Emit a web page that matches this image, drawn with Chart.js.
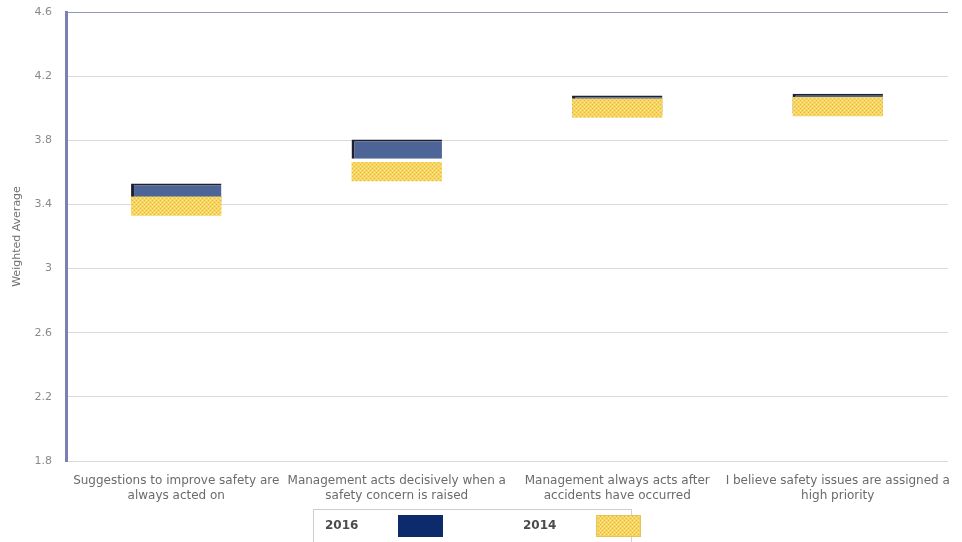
<!DOCTYPE html>
<html>
<head>
<meta charset="utf-8">
<script src="https://cdn.jsdelivr.net/npm/chart.js@4/dist/chart.umd.min.js"></script>
<style>
  html, body { margin: 0; padding: 0; background: #fff; }
  #wrap { width: 962px; height: 542px; }
</style>
</head>
<body>
<div id="wrap"><canvas id="rangeChart" width="962" height="542"></canvas></div>
<script>
// survey statements and weighted averages per year
const categories = [
    ['Suggestions to improve safety are', 'always acted on'],
    ['Management acts decisively when a', 'safety concern is raised'],
    ['Management always acts after', 'accidents have occurred'],
    ['I believe safety issues are assigned a', 'high priority']
];
const years = ['2016', '2014'];
const avg2016 = [3.47, 3.745, 4.02, 4.03];
const avg2014 = [3.39, 3.605, 4.00, 4.01];
const yTicks = [1.8, 2.2, 2.6, 3, 3.4, 3.8, 4.2, 4.6];

// half the height of each marker box, in axis units
const HALF = 0.06;
const toBand = arr => arr.map(v => [v - HALF, v + HALF]);

// dotted yellow fill
function dotPattern(){
    const c = document.createElement('canvas');
    c.width = 4; c.height = 4;
    const g = c.getContext('2d');
    g.fillStyle = '#f6d660';
    g.fillRect(0, 0, 4, 4);
    g.fillStyle = '#e6b73e';
    g.fillRect(0, 0, 1, 1);
    g.fillRect(2, 2, 1, 1);
    g.fillStyle = '#fbe69a';
    g.fillRect(2, 0, 1, 1);
    g.fillRect(0, 2, 1, 1);
    return g.createPattern(c, 'repeat');
}
const yellowDots = dotPattern();

// boxed legend under the axis
const boxLegend = {
    id: 'boxLegend',
    afterDraw(chart){
        const ctx = chart.ctx;
        ctx.save();
        ctx.strokeStyle = '#cfcfcf';
        ctx.lineWidth = 1;
        ctx.strokeRect(313.5, 509.5, 318, 40);
        ctx.font = 'bold 12px "DejaVu Sans"';
        ctx.textBaseline = 'middle';
        chart.data.datasets.forEach((ds, i) => {
            const x = 325 + i * 198;
            ctx.fillStyle = '#4b4b4b';
            ctx.fillText(ds.label, x, 526);
            ctx.fillStyle = ds.legendFill;
            ctx.fillRect(x + 73, 515, 45, 22);
            if (ds.legendEdge){
                ctx.strokeStyle = ds.legendEdge;
                ctx.strokeRect(x + 73.5, 515.5, 44, 21);
            }
        });
        ctx.restore();
    }
};

const ctx = document.getElementById('rangeChart').getContext('2d');
const rangeChart = new Chart(ctx, {
    type: 'bar',
    data: {
        labels: categories,
        datasets: [{
            label: years[0],
            data: toBand(avg2016),
            backgroundColor: '#4d6497',
            borderColor: '#1d2030',
            borderWidth: {left: 3, top: 2, right: 0, bottom: 0},
            borderSkipped: false,
            legendFill: '#0c2a6c',
            grouped: false,
            order: 1
        }, {
            label: years[1],
            data: toBand(avg2014),
            backgroundColor: yellowDots,
            borderWidth: 0,
            borderSkipped: false,
            legendFill: yellowDots,
            legendEdge: '#e8c35a',
            grouped: false,
            order: 0
        }]
    },
    plugins: [boxLegend],
    options: {
        responsive: false,
        animation: false,
        devicePixelRatio: 1,
        categoryPercentage: 1,
        barPercentage: 0.41,
        layout: {
            padding: {left: 0, right: 14, top: 12, bottom: 0}
        },
        scales: {
            x: {
                grid: {display: false, drawTicks: false},
                border: {display: false},
                ticks: {
                    color: '#6b6b6b',
                    padding: 13,
                    maxRotation: 0,
                    autoSkip: false,
                    font: {family: 'DejaVu Sans', size: 12}
                },
                afterFit: axis => {
                    axis.height = 81;
                    axis.paddingLeft = 0;
                    axis.paddingRight = 0;
                }
            },
            y: {
                min: 1.8,
                max: 4.6,
                afterBuildTicks: axis => {
                    axis.ticks = yTicks.map(v => ({value: v}));
                },
                grid: {
                    drawTicks: false,
                    color: c => c.tick && c.tick.value === 4.6 ? '#9597bd' : '#dadada',
                    lineWidth: 1
                },
                border: {color: '#7b7fb3', width: 3},
                ticks: {
                    color: '#8a8a8a',
                    padding: 14,
                    font: {family: 'DejaVu Sans', size: 11},
                    callback: v => String(v)
                },
                title: {
                    display: true,
                    text: 'Weighted Average',
                    color: '#707070',
                    padding: {top: 11, bottom: 0},
                    font: {family: 'DejaVu Sans', size: 11}
                },
                afterFit: axis => {
                    axis.width = 66;
                    axis.paddingTop = 0;
                    axis.paddingBottom = 0;
                }
            }
        },
        plugins: {
            legend: {display: false},
            tooltip: {enabled: false}
        }
    }
});
</script>
</body>
</html>
